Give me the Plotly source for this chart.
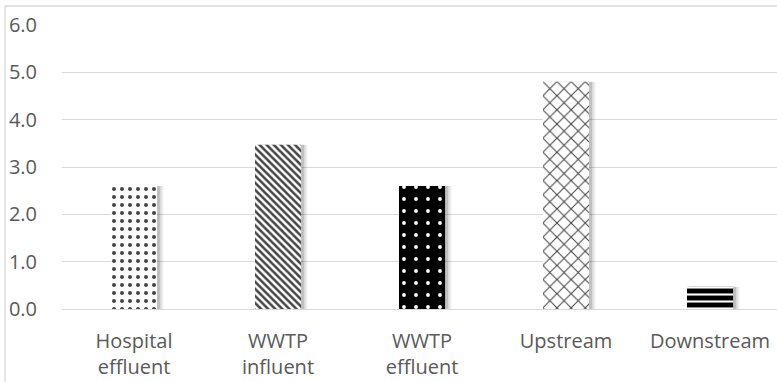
import plotly.graph_objects as go

categories = ["Hospital<br>effluent", "WWTP<br>influent", "WWTP<br>effluent", "Upstream", "Downstream"]
values = [2.6, 3.47, 2.6, 4.8, 0.47]
y_ticks = [0, 1, 2, 3, 4, 5, 6]
y_tick_labels = ["0.0", "1.0", "2.0", "3.0", "4.0", "5.0", "6.0"]

pattern_shapes = [".", "\\", ".", "x", "-"]
pattern_fg = ["black", "black", "white", "black", "white"]
bar_bg = ["white", "white", "black", "white", "black"]
pattern_size = [8, 5, 12, 10, 7]
pattern_solidity = [0.2, 0.5, 0.08, 0.2, 0.3]

FONT = "Open Sans"
GREY = "#595959"
GRID = "#d9d9d9"

fig = go.Figure()

# soft drop shadow
for off, alpha in [(0.045, 0.06), (0.032, 0.09), (0.02, 0.12)]:
    fig.add_trace(go.Bar(
        x=list(range(len(categories))), y=values, width=0.32, offset=-0.16 + off,
        marker=dict(color=f"rgba(0,0,0,{alpha})", line=dict(width=0)),
        hoverinfo="skip", showlegend=False,
    ))

fig.add_trace(go.Bar(
    x=list(range(len(categories))), y=values, width=0.32,
    marker=dict(
        color=bar_bg,
        line=dict(width=0),
        pattern=dict(shape=pattern_shapes, fgcolor=pattern_fg, bgcolor=bar_bg, fgopacity=1,
                     size=pattern_size, solidity=pattern_solidity, fillmode="overlay"),
    ),
    showlegend=False,
))

fig.update_layout(
    width=777, height=382,
    margin=dict(l=62, r=0, t=25, b=73),
    paper_bgcolor="white", plot_bgcolor="white",
    barmode="overlay",
    font=dict(family=FONT, size=20, color=GREY),
    xaxis=dict(
        tickmode="array", tickvals=list(range(len(categories))), ticktext=categories,
        range=[-0.5, 4.465], showgrid=False, zeroline=False, showline=False,
        ticks="outside", ticklen=14, tickcolor="rgba(0,0,0,0)",
        tickfont=dict(family=FONT, size=20, color=GREY),
    ),
    yaxis=dict(
        range=[0, 6], tickmode="array", tickvals=y_ticks, ticktext=y_tick_labels,
        showgrid=True, gridcolor=GRID, gridwidth=1.3,
        zeroline=True, zerolinecolor=GRID, zerolinewidth=1.3, showline=False,
        ticks="outside", ticklen=20, tickcolor="rgba(0,0,0,0)",
        tickfont=dict(family=FONT, size=20, color=GREY),
    ),
    shapes=[
        dict(type="line", xref="paper", yref="paper", x0=-0.0797, x1=-0.0797, y0=1.0669, y1=-0.3,
             line=dict(color=GRID, width=1.3)),
        dict(type="line", xref="paper", yref="paper", x0=-0.0797, x1=1.05, y0=1.0669, y1=1.0669,
             line=dict(color=GRID, width=1.3)),
    ],
)

fig.write_html("out.html", config={"displayModeBar": False},
               post_script="document.body.style.margin='0';document.body.style.overflow='hidden';")
